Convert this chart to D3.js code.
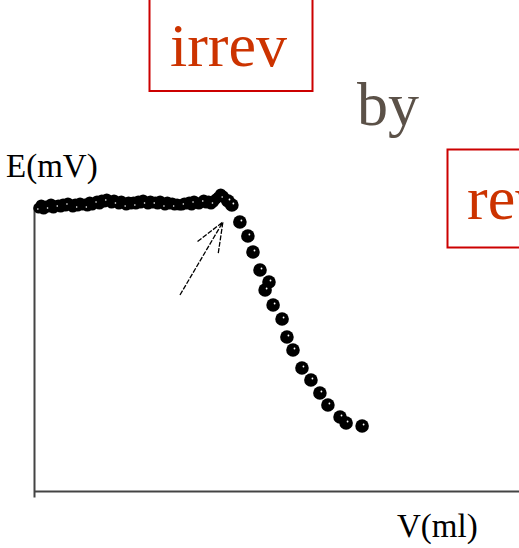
<!DOCTYPE html>
<html lang="en">
	<head>
		<meta charset="utf-8">
		<title>E vs V titration</title>
		<script src="https://d3js.org/d3.v7.min.js"></script>
		<style>
			body { margin: 0; background: white; }
			text { font-family: "Liberation Serif", "Times New Roman", serif; }
		</style>
	</head>
	<body>
		<script type="text/javascript">

			// plateau readings (V in ml, E in mV)
			var plateau_v = [0.2, 0.3, 0.4, 0.5, 0.6, 0.7, 0.8, 0.9, 1.0,
				1.1, 1.2, 1.3, 1.4, 1.5, 1.6, 1.7, 1.8, 1.9, 2.0,
				2.1, 2.2, 2.3, 2.4, 2.5, 2.6, 2.7, 2.8, 2.9, 3.0,
				3.1, 3.2, 3.3, 3.4, 3.5, 3.6, 3.7, 3.8, 3.9, 4.0,
				4.1, 4.2, 4.3, 4.4, 4.5, 4.6, 4.7, 4.8, 4.9, 5.0,
				5.1, 5.2, 5.3, 5.4, 5.5, 5.6, 5.7, 5.8, 5.9, 6.0,
				6.1, 6.2, 6.3, 6.4, 6.5, 6.6, 6.7, 6.8, 6.9, 7.0,
				7.1, 7.2, 7.3, 7.4, 7.5, 7.6, 7.7, 7.8, 7.9];
			var plateau_e = [283, 286, 282, 285, 284, 287, 283, 285, 286,
				284, 287, 285, 288, 286, 284, 287, 285, 288, 286,
				287, 285, 289, 286, 288, 290, 287, 291, 289, 292,
				290, 288, 291, 289, 287, 290, 288, 286, 289, 287,
				289, 287, 290, 288, 291, 289, 287, 290, 288, 289,
				287, 290, 288, 286, 289, 287, 288, 286, 287, 286,
				286, 288, 287, 289, 286, 290, 288, 287, 289, 291,
				288, 290, 287, 289, 292, 294, 297, 295, 292];

			// descending part after the end point
			var drop_v = [8.0, 8.16, 8.49, 8.82, 9.03, 9.32, 9.53, 9.69, 9.86, 10.23, 10.43,
				10.68, 11.05, 11.42, 11.79, 12.12, 12.62, 12.87, 13.53];
			var drop_e = [290, 286, 269, 255, 239, 221, 201, 209, 186, 172, 154,
				141, 123, 111, 98, 86, 74, 68, 65];

			// arrow pointing at the end point
			var arrow_from = [6.02, 196];
			var arrow_to = [7.79, 269];

			var w = 519;
			var h = 548;

			var x_scale = d3.scaleLinear().domain([0, 20]).range([34, 519]);
			var y_scale = d3.scaleLinear().domain([-6, 284]).range([497, 207]);

			var svg = d3.select("body").append("svg").attr("width", w).attr("height", h);

			// header boxes
			svg.append("rect").attr("x", 149.5).attr("y", -10).attr("width", 163).attr("height", 101)
				.attr("fill", "none").attr("stroke", "#cc0000").attr("stroke-width", 2);
			svg.append("text").attr("x", 170).attr("y", 66).text("irrev")
				.attr("fill", "#cc3300").style("font-size", "62px");
			svg.append("text").attr("x", 357).attr("y", 125).text("by")
				.attr("fill", "#5b5148").style("font-size", "62px");
			svg.append("rect").attr("x", 447.5).attr("y", 149.5).attr("width", 100).attr("height", 98)
				.attr("fill", "none").attr("stroke", "#cc0000").attr("stroke-width", 2);
			svg.append("text").attr("x", 467).attr("y", 219).text("rev")
				.attr("fill", "#cc3300").style("font-size", "62px");

			// axes without ticks
			var x_axis = d3.axisBottom(x_scale).tickValues([]).tickSizeOuter(0);
			var y_axis = d3.axisLeft(y_scale).tickValues([]).tickSizeOuter(0);
			svg.append("g").attr("transform", "translate(0," + y_scale(0) + ")").call(x_axis)
				.select(".domain").attr("stroke", "#444").attr("stroke-width", 2);
			svg.append("g").attr("transform", "translate(" + x_scale(0) + ",0)").call(y_axis)
				.select(".domain").attr("stroke", "#444").attr("stroke-width", 2);

			svg.append("text").attr("x", 6).attr("y", 177).text("E(mV)")
				.attr("fill", "black").style("font-size", "33px");
			svg.append("text").attr("x", 397).attr("y", 537).text("V(ml)")
				.attr("fill", "black").style("font-size", "33px");

			// points
			var plateau = d3.zip(plateau_v, plateau_e);
			var drop = d3.zip(drop_v, drop_e);

			svg.append("g").selectAll("circle.p").data(plateau).enter().append("circle")
				.attr("class", "p")
				.attr("cx", function(d) { return x_scale(d[0]); })
				.attr("cy", function(d) { return y_scale(d[1]); })
				.attr("r", 5.6).attr("fill", "black");

			svg.append("g").selectAll("circle.d").data(drop).enter().append("circle")
				.attr("class", "d")
				.attr("cx", function(d) { return x_scale(d[0]); })
				.attr("cy", function(d) { return y_scale(d[1]); })
				.attr("r", 6.8).attr("fill", "black");

			// little white specks inside the blobs, like the scanned markers
			svg.append("g").selectAll("circle.s").data(drop).enter().append("circle")
				.attr("class", "s")
				.attr("cx", function(d) { return x_scale(d[0]) + 1.5; })
				.attr("cy", function(d) { return y_scale(d[1]) - 1.5; })
				.attr("r", 0.9).attr("fill", "white");
			svg.append("g").selectAll("circle.s2").data(plateau.filter(function(d, i) { return i % 4 == 0; }))
				.enter().append("circle")
				.attr("class", "s2")
				.attr("cx", function(d) { return x_scale(d[0]) - 1; })
				.attr("cy", function(d) { return y_scale(d[1]) + 1; })
				.attr("r", 0.8).attr("fill", "white");

			// arrow
			var x1 = x_scale(arrow_from[0]), y1 = y_scale(arrow_from[1]);
			var x2 = x_scale(arrow_to[0]), y2 = y_scale(arrow_to[1]);
			var ang = Math.atan2(y1 - y2, x1 - x2);
			var barb = 32, spread = 22 * Math.PI / 180;
			var arrow_path = d3.path();
			arrow_path.moveTo(x1, y1);
			arrow_path.lineTo(x2, y2);
			arrow_path.moveTo(x2 + barb * Math.cos(ang + spread), y2 + barb * Math.sin(ang + spread));
			arrow_path.lineTo(x2, y2);
			arrow_path.lineTo(x2 + barb * Math.cos(ang - spread), y2 + barb * Math.sin(ang - spread));
			svg.append("path").attr("d", arrow_path.toString())
				.attr("fill", "none").attr("stroke", "black").attr("stroke-width", 1.3)
				.attr("stroke-dasharray", "5,1.5");

		</script>
	</body>
</html>
